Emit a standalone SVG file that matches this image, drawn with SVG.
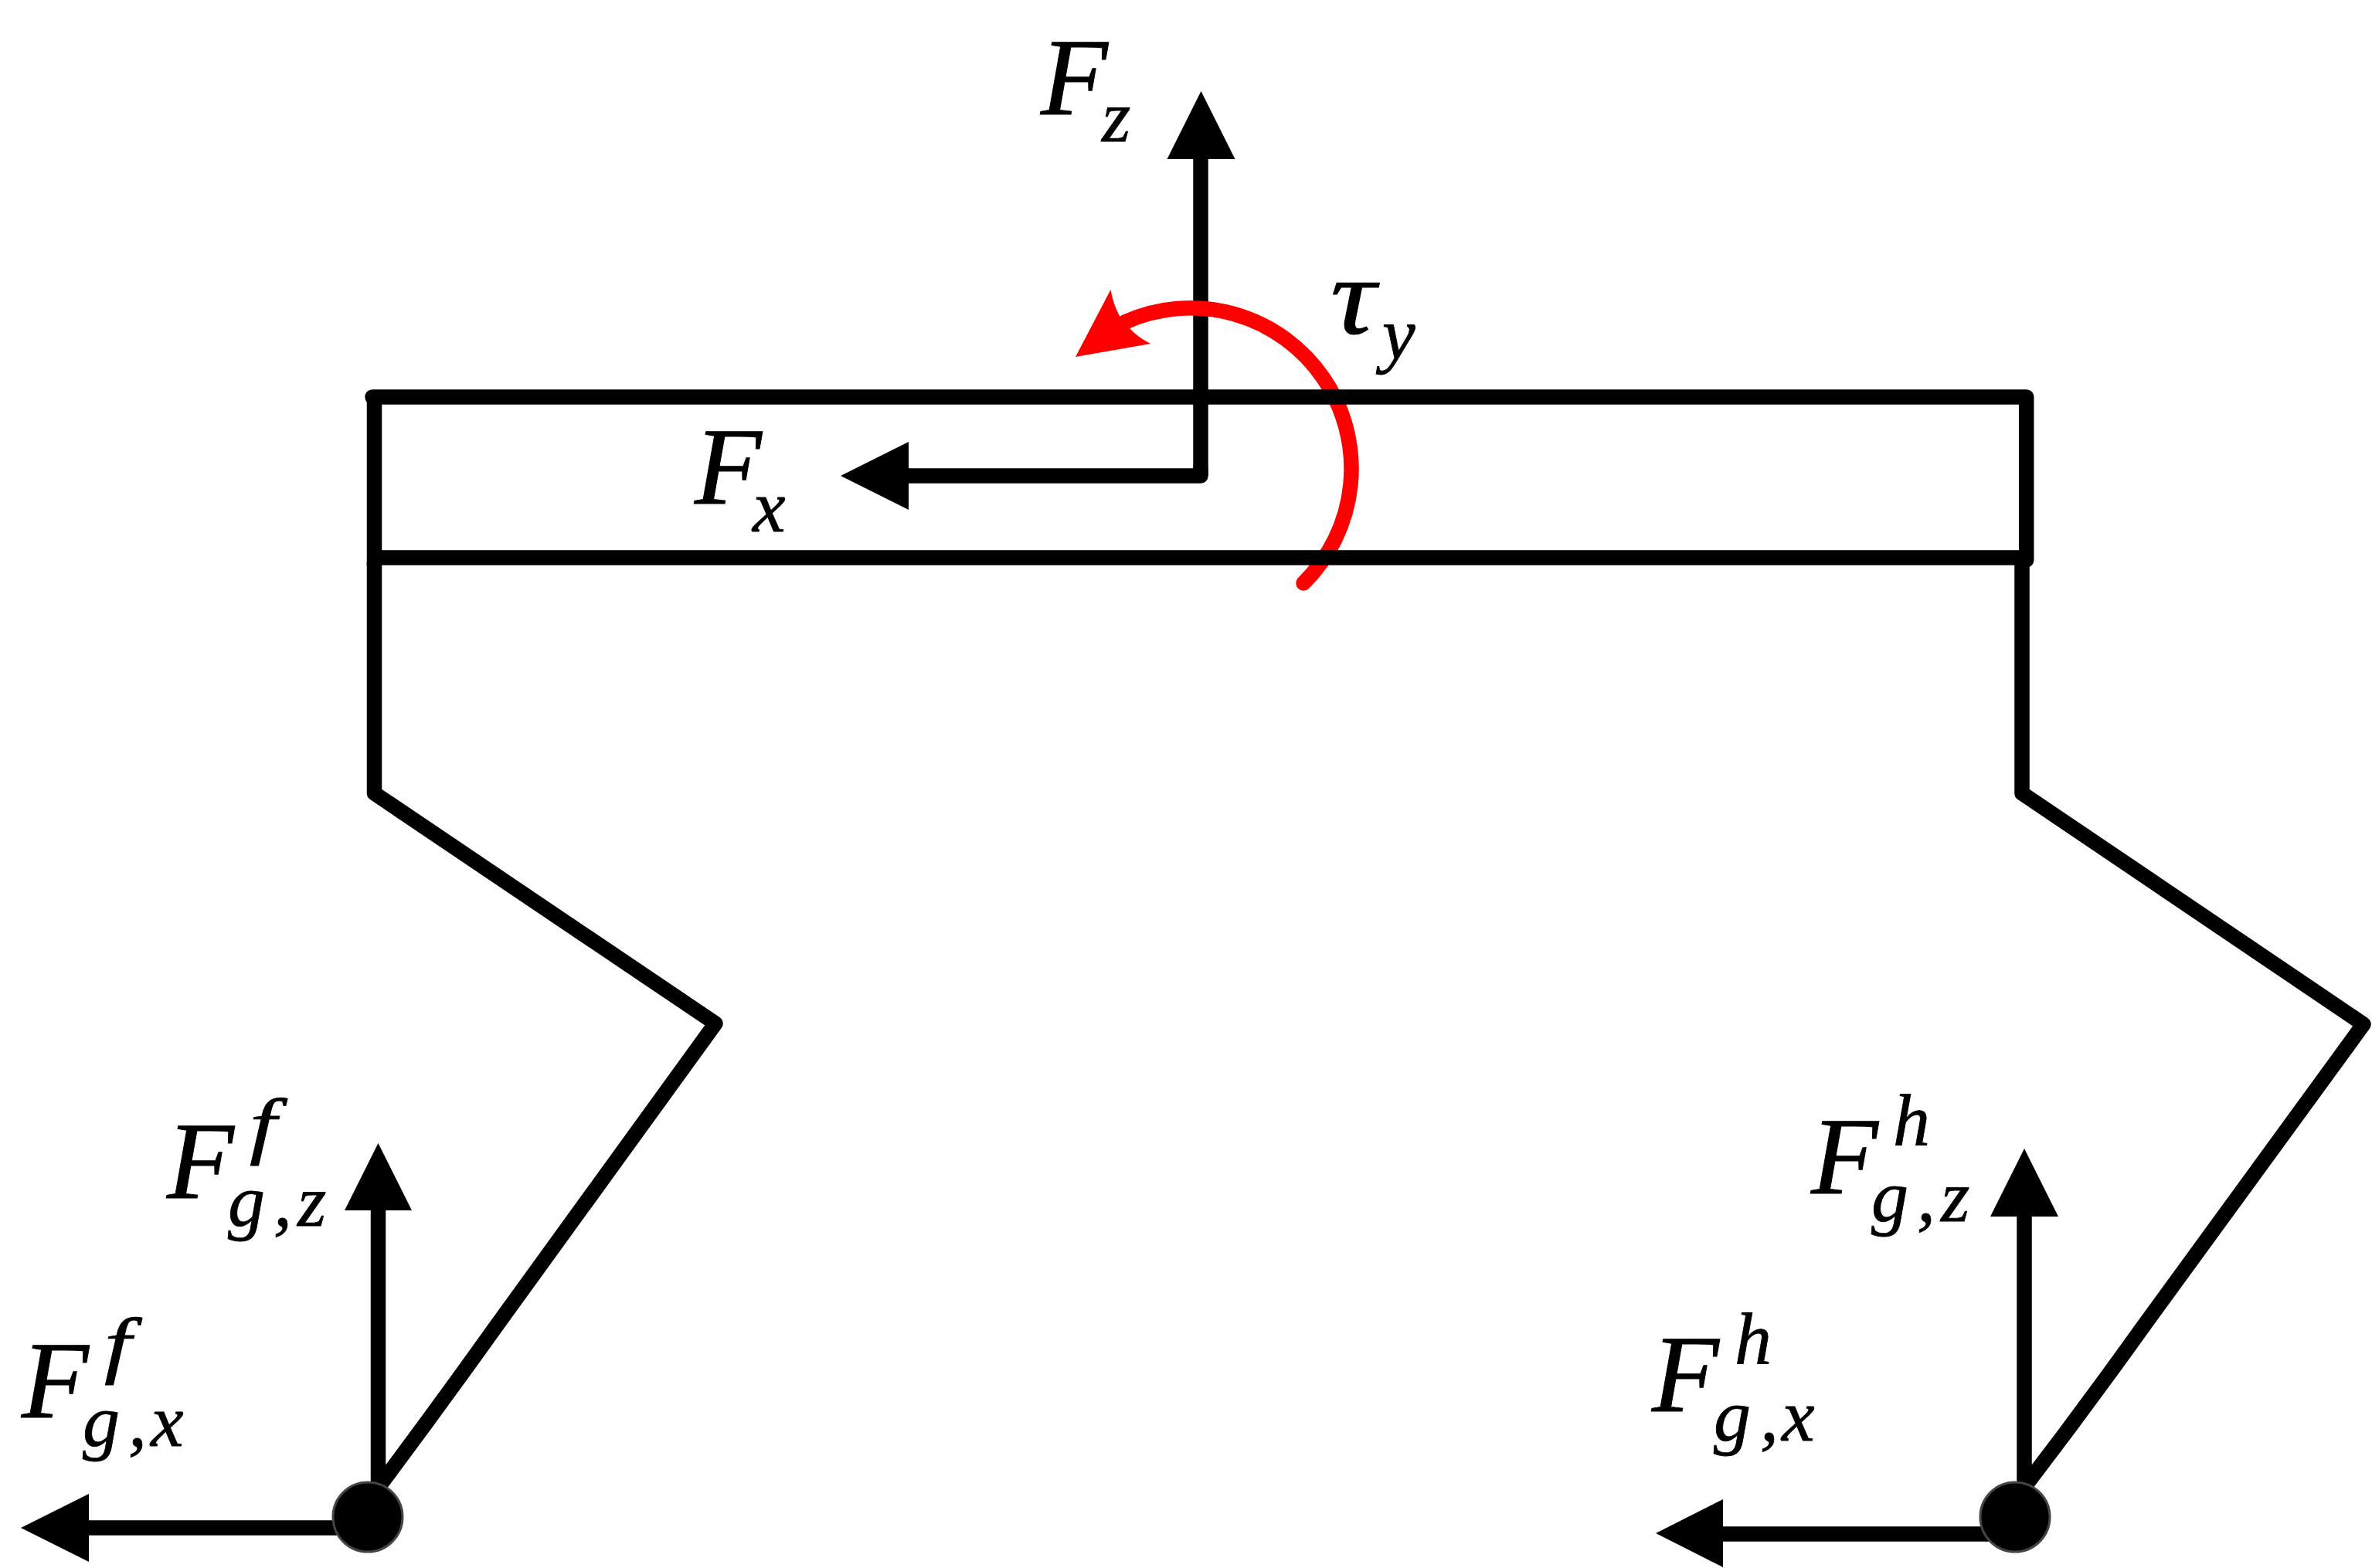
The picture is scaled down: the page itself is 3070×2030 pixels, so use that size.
<svg xmlns="http://www.w3.org/2000/svg" width="3070" height="2030" viewBox="0 0 3070 2030">
<style>
.b{fill:none;stroke:#000;stroke-width:19.5;stroke-linecap:round;stroke-linejoin:round}
.s{fill:none;stroke:#000;stroke-width:19.5}
.h{fill:#000}
.j{fill:#000;stroke:#444;stroke-width:3}
text{font-family:"Liberation Serif","Times New Roman",serif;font-style:italic;fill:#000;stroke:#000}
.L{font-size:142px;stroke-width:1}
.m{font-size:96px;stroke-width:.8}
</style>
<rect width="3070" height="2030" fill="#fff"/>
<g id="connectors">
<path class="s" d="M1554 200V616"/>
<path class="b" d="M1554 606V616H1170"/>
<path id="torque-arc" d="M1687 755A208 208 0 0 0 1456 417" fill="none" stroke="#f00" stroke-width="19.5" stroke-linecap="round"/>
<path id="torque-head" d="M1392 462L1437.5 375Q1441 395 1449.5 410L1463 426Q1472 436 1489 445Z" fill="#f00"/>
<path class="h" d="M1554.5 118L1598.5 206H1510.5Z"/>
<path class="h" d="M1088 616L1176 572V660Z"/>
<path class="s" d="M489.5 1560V1950"/>
<path class="h" d="M489.5 1480L533 1567H446Z"/>
<path class="s" d="M110 1978H470"/>
<path class="h" d="M27 1978L115 1934V2022Z"/>
<path class="s" d="M2620 1566V1950"/>
<path class="h" d="M2620 1487L2664 1575H2576Z"/>
<path class="s" d="M2225 1986H2600"/>
<path class="h" d="M2143 1985L2230 1941V2029Z"/>
</g>
<g id="body">
<path class="b" d="M482 514H2622.7V725"/>
<path class="s" d="M484.5 514V722H2622.7"/>
</g>
<g id="front-leg">
<path class="b" d="M484.5 728V1027L926 1325L640 1720Q565 1825 488 1928"/>
</g>
<g id="hind-leg">
<path class="b" d="M2617 728V1027L3059 1326L2772 1720Q2697 1825 2618 1928"/>
</g>
<g id="front-foot"><circle class="j" cx="476" cy="1964" r="45"/></g>
<g id="hind-foot"><circle class="j" cx="2608" cy="1964" r="45"/></g>
<g id="label-fz"><text class="L" x="1347" y="148">F</text><text class="m" x="1426" y="183">z</text></g>
<g id="label-fx"><text class="L" x="899" y="652">F</text><text class="m" x="974" y="688">x</text></g>
<g id="label-tau"><text class="L" transform="translate(1722 432) scale(1.15 1)">τ</text><text class="m" x="1789" y="465">y</text></g>
<g id="label-fgz-f"><text class="L" x="216" y="1551">F</text><text class="m" transform="translate(323 1489) scale(1.3 1)">f</text><text class="m" x="295" y="1587">g</text><text class="m" x="354" y="1587">,</text><text class="m" x="385" y="1587">z</text></g>
<g id="label-fgx-f"><text class="L" x="28" y="1835">F</text><text class="m" transform="translate(135 1773) scale(1.3 1)">f</text><text class="m" x="107" y="1872">g</text><text class="m" x="166" y="1872">,</text><text class="m" x="195" y="1872">x</text></g>
<g id="label-fgz-h"><text class="L" x="2344" y="1545">F</text><text class="m" x="2450" y="1483">h</text><text class="m" x="2422" y="1581">g</text><text class="m" x="2481" y="1581">,</text><text class="m" x="2512" y="1581">z</text></g>
<g id="label-fgx-h"><text class="L" x="2138" y="1827">F</text><text class="m" x="2245" y="1766">h</text><text class="m" x="2218" y="1865">g</text><text class="m" x="2278" y="1865">,</text><text class="m" x="2306" y="1865">x</text></g>
</svg>
